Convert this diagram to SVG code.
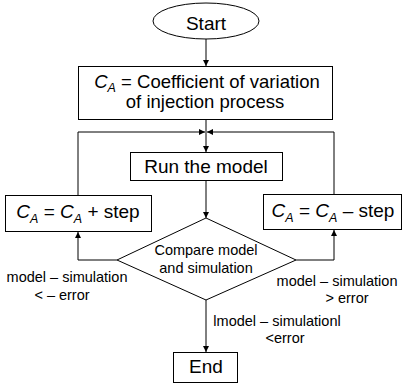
<svg xmlns="http://www.w3.org/2000/svg" width="403" height="386" viewBox="0 0 403 386">
<defs>
<marker id="ah" viewBox="0 0 10 10" refX="10" refY="5" markerWidth="6" markerHeight="6" orient="auto" markerUnits="userSpaceOnUse">
<path d="M0,0 L10,5 L0,10 z" fill="#000"/>
</marker>
<style>
.box{fill:#fff;stroke:#000;stroke-width:1}
.t{font-family:"Liberation Sans",Arial,sans-serif;font-size:19px;fill:#000;text-anchor:middle}
.s{font-family:"Liberation Sans",Arial,sans-serif;font-size:14.5px;fill:#000;text-anchor:middle}
.i{font-style:italic}
.sub{font-style:italic;font-size:12.5px}
.c{fill:none;stroke:#000;stroke-width:1;marker-end:url(#ah)}
</style>
</defs>
<rect width="403" height="386" fill="#fff"/>
<g id="connectors">
<path class="c" d="M206,39 V66"/>
<path class="c" d="M206,119 V152"/>
<path class="c" d="M78,195 V132 H205"/>
<path class="c" d="M334,194 V132 H207"/>
<path class="c" d="M206,180 V218"/>
<path class="c" d="M117,260 H78 V232"/>
<path class="c" d="M296,260 H334 V230"/>
<path class="c" d="M206,300 V352"/>
</g>
<g id="start">
<ellipse class="box" cx="206" cy="21" rx="53" ry="18"/>
<text class="t" x="206" y="30">Start</text>
</g>
<g id="init">
<rect class="box" x="78.5" y="66.5" width="254" height="53"/>
<text class="t" x="207" y="88" style="font-size:18.5px"><tspan class="i">C</tspan><tspan class="sub" dy="4">A</tspan><tspan dy="-4"> = Coefficient of variation</tspan></text>
<text class="t" x="205" y="108" style="font-size:18.5px">of injection process</text>
</g>
<g id="run">
<rect class="box" x="130.5" y="152.5" width="152" height="28"/>
<text class="t" x="206" y="173">Run the model</text>
</g>
<g id="plus">
<rect class="box" x="5.5" y="195.5" width="146" height="36"/>
<text class="t" x="78" y="218"><tspan class="i">C</tspan><tspan class="sub" dy="5">A</tspan><tspan dy="-5"> = </tspan><tspan class="i">C</tspan><tspan class="sub" dy="5">A</tspan><tspan dy="-5"> + step</tspan></text>
</g>
<g id="minus">
<rect class="box" x="263.5" y="194.5" width="138" height="35"/>
<text class="t" x="333" y="217"><tspan class="i">C</tspan><tspan class="sub" dy="5">A</tspan><tspan dy="-5"> = </tspan><tspan class="i">C</tspan><tspan class="sub" dy="5">A</tspan><tspan dy="-5"> – step</tspan></text>
</g>
<g id="compare">
<polygon class="box" points="206,218 296,260 206,300 117,260"/>
<text class="s" x="206" y="255">Compare model</text>
<text class="s" x="206" y="273">and simulation</text>
</g>
<g id="end">
<rect class="box" x="173.5" y="352.5" width="64" height="30"/>
<text class="t" x="206" y="373">End</text>
</g>
<g id="labels">
<text class="s" x="67" y="282">model – simulation</text>
<text class="s" x="62" y="300">&lt; – error</text>
<text class="s" x="337" y="286">model – simulation</text>
<text class="s" x="347" y="303">&gt; error</text>
<text class="s" x="277" y="326">lmodel – simulationl</text>
<text class="s" x="285" y="343">&lt;error</text>
</g>
</svg>
